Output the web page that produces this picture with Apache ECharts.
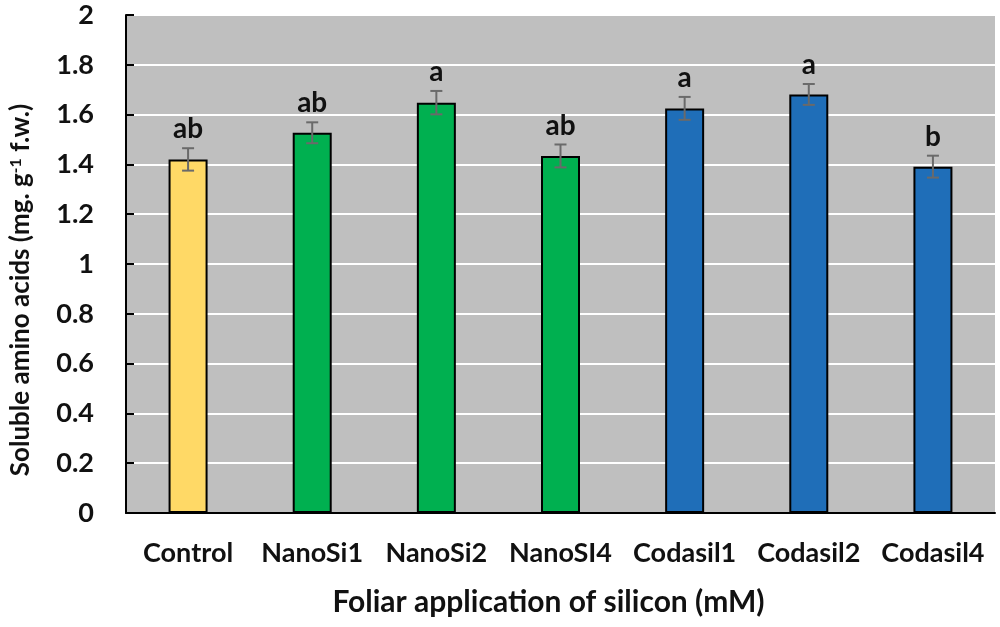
<!DOCTYPE html>
<html><head><meta charset="utf-8">
<script src="https://cdn.jsdelivr.net/npm/echarts@6/dist/echarts.min.js"></script>
<style>html,body{margin:0;padding:0;background:#fff}#c{width:1000px;height:627px}</style>
</head><body><div id="c"></div>
<script>
const categories = ['Control','NanoSi1','NanoSi2','NanoSI4','Codasil1','Codasil2','Codasil4'];
const values = [1.42, 1.527, 1.648, 1.434, 1.625, 1.681, 1.391];
const errors = [0.045, 0.042, 0.047, 0.046, 0.046, 0.042, 0.044];
const letters = ['ab','ab','a','ab','a','a','b'];
const colors = ['#FFD966','#00B050','#00B050','#00B050','#1F6EB8','#1F6EB8','#1F6EB8'];
const yTicks = [0,0.2,0.4,0.6,0.8,1,1.2,1.4,1.6,1.8,2];

const FONT = 'Lato';
const chart = echarts.init(document.getElementById('c'));
chart.setOption({
  animation: false,
  textStyle: {fontFamily: FONT},
  grid: {left: 123, right: 5, top: 15, bottom: 114, show: true, backgroundColor: '#BFBFBF', borderWidth: 0},
  xAxis: {
    type: 'category', data: categories,
    axisLine: {lineStyle: {color: '#000', width: 2}},
    axisTick: {show: false},
    axisLabel: {interval: 0, fontSize: 27, fontWeight: 'bold', color: '#111', margin: 27, fontFamily: FONT},
    name: 'Foliar application of silicon (mM)', nameLocation: 'middle', nameGap: 74,
    nameTextStyle: {fontSize: 30, fontWeight: 'bold', color: '#111', fontFamily: FONT, padding: [0, 24, 0, 0]}
  },
  yAxis: {
    type: 'value', min: 0, max: 2, interval: 0.2,
    axisLine: {show: true, lineStyle: {color: '#000', width: 2}},
    axisTick: {show: true, inside: true, length: 8, lineStyle: {color: '#000', width: 2}},
    splitLine: {lineStyle: {color: '#fff', width: 2}},
    axisLabel: {fontSize: 27, fontWeight: 'bold', color: '#111', margin: 32, fontFamily: FONT,
      formatter: v => String(Math.round(v*10)/10)},
    name: 'Soluble amino acids (mg. g{sup|-1} f.w.)', nameLocation: 'middle', nameGap: 92, nameRotate: 90,
    nameTextStyle: {fontSize: 26, fontWeight: 'bold', color: '#111', fontFamily: FONT, padding: [0, 52, 0, 0],
      rich: {sup: {fontSize: 16, fontWeight: 'bold', color: '#111', fontFamily: FONT, verticalAlign: 'top', padding: [0,0,10,0]}}}
  },
  series: [
    {
      type: 'bar', barWidth: 39,
      data: values.map((v,i) => ({value: v, itemStyle: {color: colors[i]}})),
      itemStyle: {borderColor: '#000', borderWidth: 2}
    },
    {
      type: 'custom', z: 10,
      data: values.map((v,i) => [i, v, errors[i], letters[i]]),
      renderItem: (params, api) => {
        const x = api.value(0), v = api.value(1), e = api.value(2);
        const top = api.coord([x, v + e]);
        const bot = api.coord([x, v - e]);
        const hw = 6;
        const st = {stroke: '#6a6a6a', lineWidth: 2};
        return {type: 'group', children: [
          {type: 'line', shape: {x1: top[0], y1: top[1], x2: bot[0], y2: bot[1]}, style: st},
          {type: 'line', shape: {x1: top[0]-hw, y1: top[1], x2: top[0]+hw, y2: top[1]}, style: st},
          {type: 'line', shape: {x1: bot[0]-hw, y1: bot[1], x2: bot[0]+hw, y2: bot[1]}, style: st},
          {type: 'text', x: top[0], y: top[1] - 5, style: {text: letters[params.dataIndex], fill: '#111',
            font: 'bold 28px "' + FONT + '"', align: 'center', verticalAlign: 'bottom'}}
        ]};
      }
    }
  ]
});
</script></body></html>
